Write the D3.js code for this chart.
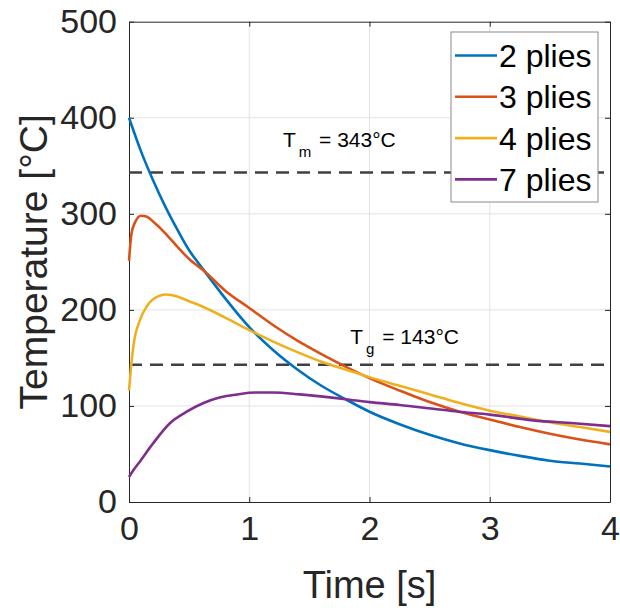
<!DOCTYPE html>
<html><head><meta charset="utf-8">
<script src="https://cdn.jsdelivr.net/npm/d3@7"></script>
<style>body{margin:0;background:#fff;} text{font-family:"Liberation Sans",Arial,sans-serif;}</style>
</head><body><svg id="c" width="620" height="610"></svg>
<script>
const seriesNames = ["2 plies","3 plies","4 plies","7 plies"];
const seriesColors = ["#0072BD","#D95319","#EDB120","#7E2F8E"];
const plies2 = [[0,400],[0.1,365],[0.2,335],[0.3,308],[0.4,284],[0.5,262],[0.6,245],[0.8,212],[1.0,182],[1.2,158],[1.4,138],[1.6,121],[1.8,107],[2.0,94],[2.25,81],[2.5,70],[2.75,61],[3.0,54],[3.25,48],[3.5,43],[3.75,40],[4.0,37]];
const plies3 = [[0,251],[0.02,279],[0.05,291],[0.1,298],[0.15,297],[0.2,292],[0.3,280],[0.4,266],[0.5,253],[0.63,240],[0.8,220],[1.0,202],[1.2,184],[1.4,168],[1.6,154],[1.8,141],[2.0,129],[2.25,116],[2.5,104],[2.75,94],[3.0,86],[3.25,78],[3.5,71],[3.75,65],[4.0,60]];
const plies4 = [[0,116],[0.015,138],[0.036,162],[0.09,189],[0.15,204],[0.2,211],[0.31,216],[0.4,214],[0.5,209],[0.6,204],[0.8,192],[1.0,179],[1.2,167],[1.4,156],[1.6,146],[1.8,138],[2.0,130],[2.25,121],[2.5,112],[2.75,103],[3.0,95],[3.25,89],[3.5,83],[3.75,78],[4.0,73]];
const plies7 = [[0,26],[0.036,33],[0.09,42],[0.2,61],[0.34,82],[0.48,94],[0.62,103],[0.76,109],[0.9,112],[1.05,114],[1.2,114],[1.42,112],[1.8,107],[2.0,104],[2.25,101],[2.53,97],[2.74,94],[3.0,91],[3.36,85],[3.7,82],[4.0,79]];
const allSeries = [plies2, plies3, plies4, plies7];
const xTicks = [0,1,2,3,4];
const yTicks = [0,100,200,300,400,500];
const refLines = [{value:343, sub:"m", label:" = 343°C", tx:1.28, ty:370},
                  {value:143, sub:"g", label:" = 143°C", tx:1.84, ty:165}];

const svg = d3.select("#c");
const L=129, R=610, T=21.7, B=502;
const x = d3.scaleLinear().domain([0,4]).range([L,R]);
const y = d3.scaleLinear().domain([0,500]).range([B,T]);
const axisCol = "#262626";

// grid
const g = svg.append("g");
g.selectAll(".gx").data(xTicks.slice(1,-1)).enter().append("line")
  .attr("x1",d=>x(d)).attr("x2",d=>x(d)).attr("y1",T).attr("y2",B)
  .attr("stroke","#e3e3e3").attr("stroke-width",1);
g.selectAll(".gy").data(yTicks.slice(1,-1)).enter().append("line")
  .attr("y1",d=>y(d)).attr("y2",d=>y(d)).attr("x1",L).attr("x2",R)
  .attr("stroke","#e3e3e3").attr("stroke-width",1);

// axes with inward ticks
const fs = "34px";
const xa = svg.append("g").attr("transform",`translate(0,${B})`)
  .call(d3.axisBottom(x).tickValues(xTicks).tickFormat(d3.format("d")).tickSizeInner(-5).tickSizeOuter(0).tickPadding(14));
const ya = svg.append("g").attr("transform",`translate(${L},0)`)
  .call(d3.axisLeft(y).tickValues(yTicks).tickFormat(d3.format("d")).tickSizeInner(-5).tickSizeOuter(0).tickPadding(12));
const xt = svg.append("g").attr("transform",`translate(0,${T})`)
  .call(d3.axisTop(x).tickValues(xTicks).tickSizeInner(-5).tickSizeOuter(0).tickFormat(""));
const yr = svg.append("g").attr("transform",`translate(${R},0)`)
  .call(d3.axisRight(y).tickValues(yTicks).tickSizeInner(-5).tickSizeOuter(0).tickFormat(""));
[xa,ya,xt,yr].forEach(a=>{
  a.selectAll("path").attr("stroke",axisCol);
  a.selectAll("line").attr("stroke",axisCol);
  a.selectAll("text").attr("fill",axisCol).style("font-size",fs).style("font-family","Liberation Sans, Arial, sans-serif");
});
xa.selectAll("text").attr("dy","0.71em");

// reference lines
refLines.forEach(r=>{
  svg.append("line").attr("x1",L).attr("x2",R).attr("y1",y(r.value)).attr("y2",y(r.value))
    .attr("stroke","#404040").attr("stroke-width",2.5).attr("stroke-dasharray","13,8");
  const t = svg.append("text").attr("x",x(r.tx)).attr("y",y(r.ty)).attr("fill","#000").style("font-size","21px");
  t.append("tspan").text("T");
  t.append("tspan").text(r.sub).attr("dx",3).attr("dy",10).style("font-size","15px");
  t.append("tspan").text(r.label).attr("dx",2).attr("dy",-10);
});

// series
const line = d3.line().x(d=>x(d[0])).y(d=>y(d[1])).curve(d3.curveMonotoneX);
allSeries.forEach((s,i)=>{
  svg.append("path").datum(s).attr("d",line).attr("fill","none")
    .attr("stroke",seriesColors[i]).attr("stroke-width",2.6).attr("stroke-linejoin","round");
});

// legend
const lg = svg.append("g");
lg.append("rect").attr("x",451).attr("y",32).attr("width",147).attr("height",170)
  .attr("fill","#fff").attr("stroke","#8a8a8a").attr("stroke-width",1);
seriesNames.forEach((n,i)=>{
  const cy = 55.5 + i*41.3;
  lg.append("line").attr("x1",455).attr("x2",497).attr("y1",cy).attr("y2",cy)
    .attr("stroke",seriesColors[i]).attr("stroke-width",2.6);
  lg.append("text").attr("x",499).attr("y",cy).attr("dy","0.36em").attr("fill","#000")
    .style("font-size","32px").text(n);
});

// axis labels
svg.append("text").attr("x",(L+R)/2).attr("y",598).attr("text-anchor","middle")
  .attr("fill",axisCol).style("font-size","38px").text("Time [s]");
svg.append("text").attr("transform",`translate(47,${(T+B)/2}) rotate(-90)`).attr("text-anchor","middle")
  .attr("fill",axisCol).style("font-size","39px").text("Temperature [°C]");
</script></body></html>
